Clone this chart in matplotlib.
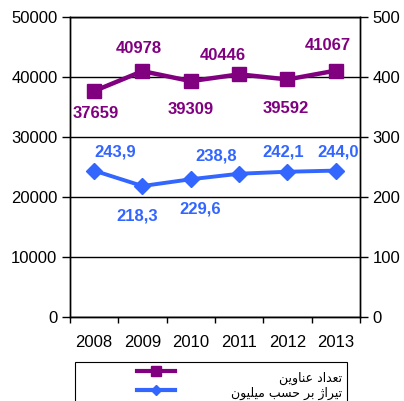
import matplotlib
matplotlib.use("Agg")
import matplotlib.pyplot as plt
from matplotlib.lines import Line2D
from matplotlib.patches import Rectangle

years = ["2008", "2009", "2010", "2011", "2012", "2013"]
titles = [37659, 40978, 39309, 40446, 39592, 41067]
circulation = [243.9, 218.3, 229.6, 238.8, 242.1, 244.0]
circ_labels = ["243,9", "218,3", "229,6", "238,8", "242,1", "244,0"]
left_ticks = [0, 10000, 20000, 30000, 40000, 50000]
right_ticks = [0, 100, 200, 300, 400, 500]
# legend labels written in visual order using Arabic presentation forms
legend_titles = "\uFEE6\uFEF3\uFEED\uFE8E\uFEE8\uFECB \uFEA9\uFE8D\uFEAA\uFECC\uFE97"
legend_circ = "\uFEE5\uFEEE\uFEF4\uFEE0\uFEF4\uFEE3 \uFE90\uFEB4\uFEA3 \uFEAE\uFE91 \u0698\uFE8D\uFEAE\uFEF4\uFE97"

purple = "#800080"
blue = "#3366FF"

plt.rcParams['font.family'] = ['Liberation Sans', 'DejaVu Sans']

fig = plt.figure(figsize=(4.04, 4.01), dpi=100)
ax = fig.add_axes([70/404, 1-317/401, 290/404, 300/401])
ax2 = ax.twinx()

x = list(range(len(years)))
ax.plot(x, titles, color=purple, lw=3.2, marker='s', ms=10.5, zorder=5)
ax2.plot(x, circulation, color=blue, lw=2.8, marker='D', ms=8.5, zorder=5)

ax.set_xlim(-0.5, 5.5)
ax.set_ylim(0, 50000)
ax2.set_ylim(0, 500)
ax.set_yticks(left_ticks)
ax2.set_yticks(right_ticks)
ax.set_xticks(x)
ax.set_xticklabels(years)
ax.set_xticks([i - 0.5 for i in range(len(years) + 1)], minor=True)
ax.tick_params(axis='x', which='major', length=0, pad=13, labelsize=12)
ax.tick_params(axis='x', which='minor', length=4, width=1, direction='out')
ax.tick_params(axis='y', length=6, width=1, direction='out', labelsize=12, pad=3)
ax2.tick_params(axis='y', length=6, width=1, direction='out', labelsize=12, pad=3)
ax.yaxis.grid(True, color='black', lw=1)
ax.set_axisbelow(True)
for a in (ax, ax2):
    for s in a.spines.values():
        s.set_color('black')
        s.set_linewidth(1)

t_off = [(2, -22), (-4, 23), (0, -28), (-16, 19), (-2, -29), (-8, 25)]
for i, (v, o) in enumerate(zip(titles, t_off)):
    ax.annotate(str(v), (i, v), xytext=o, textcoords='offset pixels',
                ha='center', va='center', color=purple, fontsize=12,
                fontweight='bold')
c_off = [(21, 19), (-5, -30), (9, -30), (-23, 18), (-4, 20), (2, 19)]
for i, (v, lab, o) in enumerate(zip(circulation, circ_labels, c_off)):
    ax2.annotate(lab, (i, v), xytext=o, textcoords='offset pixels',
                 ha='center', va='center', color=blue, fontsize=12,
                 fontweight='bold')

# legend (manual, right-to-left layout)
W, H = 404, 401
fig.patches.append(Rectangle((75/W, (H-430)/H), 272/W, 68/H, transform=fig.transFigure,
                             fill=False, edgecolor='black', lw=0.8))
for yy, col, mk, ms, lab, ty in [(370.5, purple, 's', 7, legend_titles, 378),
                                  (390, blue, 'D', 5, legend_circ, 393)]:
    fig.lines.append(Line2D([137/W, 175/W], [1-yy/H, 1-yy/H], transform=fig.transFigure,
                            color=col, lw=3))
    fig.lines.append(Line2D([156/W], [1-yy/H], transform=fig.transFigure,
                            color=col, marker=mk, ms=ms))
    fig.text(342/W, 1-ty/H, lab, ha='right', va='center', fontsize=9,
             family='DejaVu Sans', color='black')

fig.savefig("out.png", dpi=100)
